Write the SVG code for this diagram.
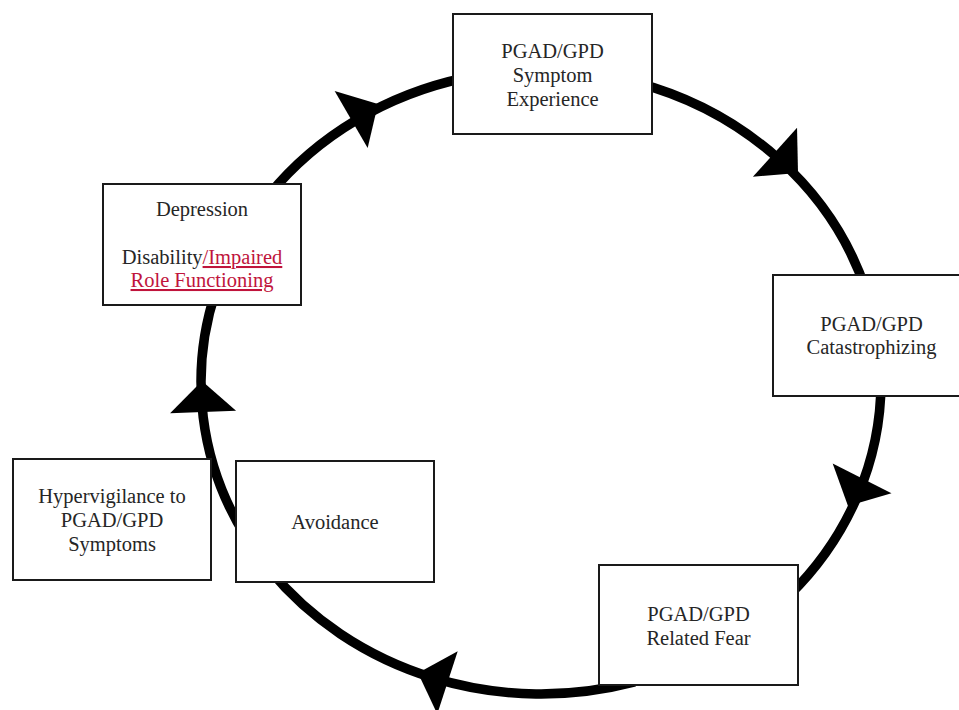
<svg xmlns="http://www.w3.org/2000/svg" xmlns:xlink="http://www.w3.org/1999/xlink" width="959" height="710" viewBox="0 0 959 710">
<style>
.box{fill:#fff;stroke:#1a1a1a;stroke-width:2}
.lbl{font-family:"Liberation Serif","Times New Roman",serif;font-size:20.5px;fill:#262626;text-anchor:middle}
.lnk{fill:#C0143C;text-decoration:underline}
.arc{fill:none;stroke:#000;stroke-width:9.5}
.head{fill:#000}
</style>
<defs>
<polygon id="ah" class="head" points="0,0 -31,-33 -31,33"/>
</defs>
<rect width="959" height="710" fill="#fff"/>
<g id="connectors">
<path class="arc" d="M269.5,194.2 A340,312 0 0 1 464.5,78"/>
<path class="arc" d="M634.7,82.1 A340,312 0 0 1 866.1,290.8"/>
<path class="arc" d="M881,382 A340,312 0 0 1 789.7,594.8"/>
<path class="arc" d="M634.7,681.9 A340,312 0 0 1 269.5,569.8"/>
<path class="arc" d="M246.6,538 A340,312 0 0 1 215.9,290.8"/>
<use xlink:href="#ah" transform="translate(378,104) rotate(-30)"/>
<use xlink:href="#ah" transform="translate(798,173) rotate(42)"/>
<use xlink:href="#ah" transform="translate(848,506) rotate(117)"/>
<use xlink:href="#ah" transform="translate(418,673) rotate(198)"/>
<use xlink:href="#ah" transform="translate(202,381) rotate(-92)"/>
</g>
<g id="symptom-experience">
<rect class="box" x="453" y="14" width="199" height="120"/>
<text class="lbl" x="552.5" y="58">PGAD/GPD</text>
<text class="lbl" x="552.5" y="82">Symptom</text>
<text class="lbl" x="552.5" y="106">Experience</text>
</g>
<g id="catastrophizing">
<rect class="box" x="773" y="275" width="197" height="121"/>
<text class="lbl" x="871.5" y="331">PGAD/GPD</text>
<text class="lbl" x="871.5" y="354">Catastrophizing</text>
</g>
<g id="related-fear">
<rect class="box" x="599" y="565" width="199" height="120"/>
<text class="lbl" x="698.5" y="621">PGAD/GPD</text>
<text class="lbl" x="698.5" y="645">Related Fear</text>
</g>
<g id="avoidance">
<rect class="box" x="236" y="461" width="198" height="121"/>
<text class="lbl" x="335" y="529">Avoidance</text>
</g>
<g id="hypervigilance">
<rect class="box" x="13" y="459" width="198" height="121"/>
<text class="lbl" x="112" y="503">Hypervigilance to</text>
<text class="lbl" x="112" y="527">PGAD/GPD</text>
<text class="lbl" x="112" y="551">Symptoms</text>
</g>
<g id="depression">
<rect class="box" x="103" y="184" width="198" height="121"/>
<text class="lbl" x="202" y="216">Depression</text>
<text class="lbl" x="202" y="264">Disability<tspan class="lnk">/Impaired</tspan></text>
<text class="lbl" x="202" y="287"><tspan class="lnk">Role Functioning</tspan></text>
</g>
</svg>
